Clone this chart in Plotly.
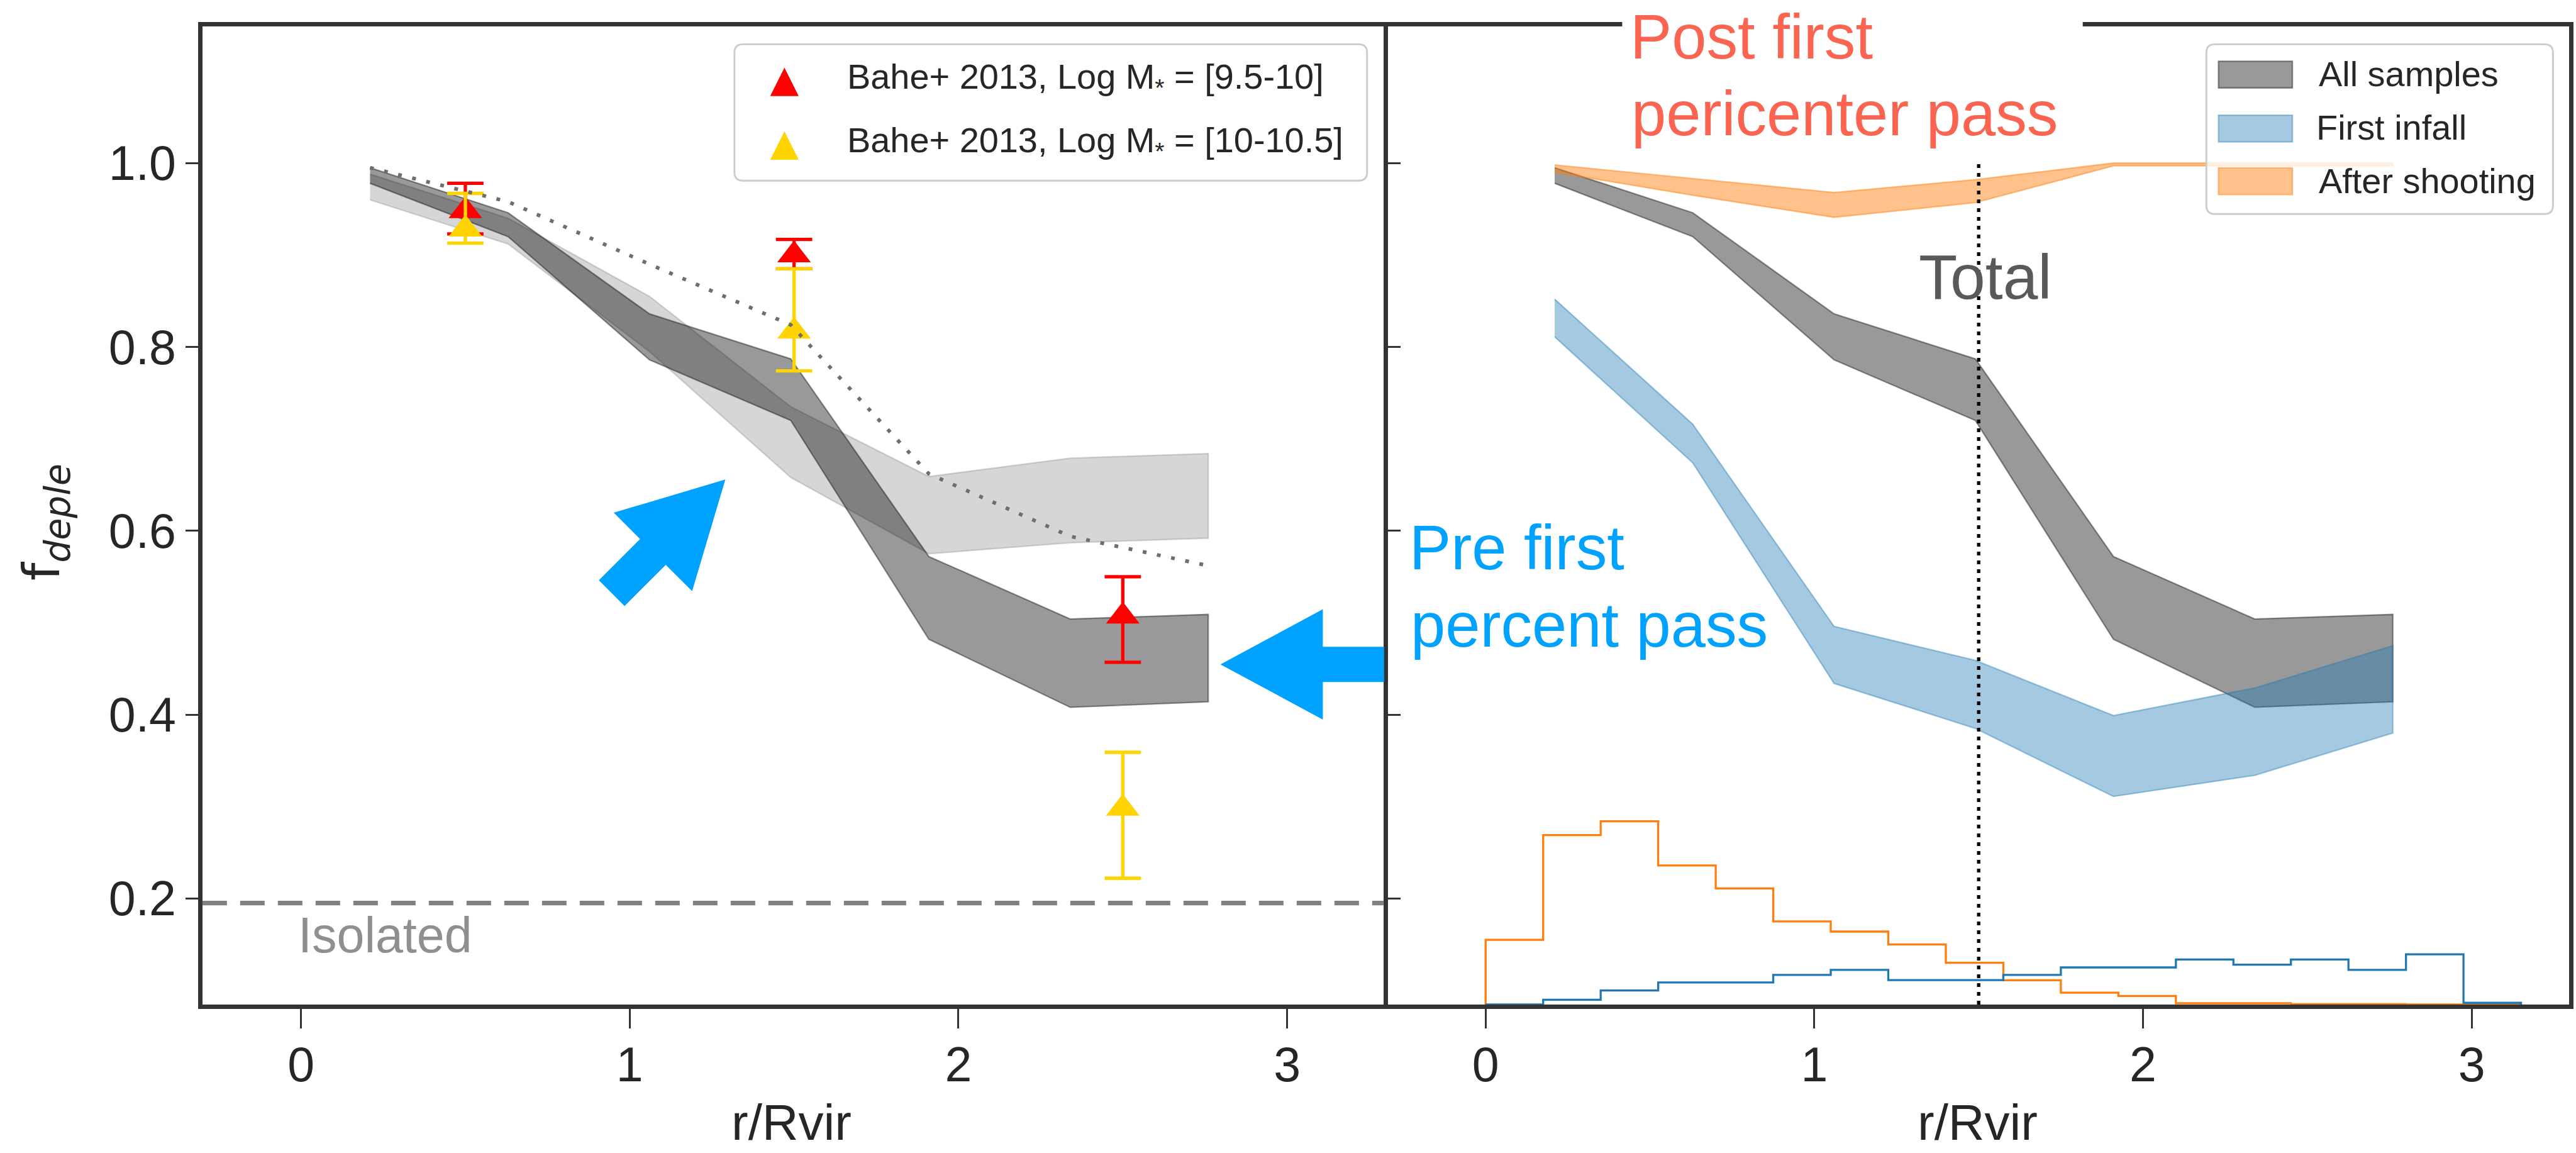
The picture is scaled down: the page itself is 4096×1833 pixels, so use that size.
import plotly.graph_objects as go

# Layout is designed on a 4251 x 1902 grid and converted to paper fractions.
W, H = 4251, 1902
S = 4096 / W  # grid unit -> screen pixel


def fx(X):
    return X / W


def fy(Y):
    return 1 - Y / H


def sz(v):
    return v * S


FONT = "Liberation Sans"
INK = "#262626"
SPINE = "#333333"
BLUE_NOTE = "#00a2ff"
RED_NOTE = "#fa6450"

# ---------------- data ----------------
r_bins = [0.21, 0.63, 1.06, 1.49, 1.91, 2.34, 2.76]

all_hi = [0.995, 0.946, 0.836, 0.787, 0.572, 0.504, 0.509]
all_lo = [0.978, 0.920, 0.786, 0.720, 0.482, 0.408, 0.414]

bahe_band_hi = [0.988, 0.940, 0.855, 0.735, 0.659, 0.679, 0.684]
bahe_band_lo = [0.960, 0.912, 0.795, 0.658, 0.575, 0.587, 0.592]

bahe_model = [0.995, 0.958, 0.890, 0.824, 0.662, 0.594, 0.562]

infall_hi = [0.852, 0.716, 0.496, 0.459, 0.399, 0.429, 0.475]
infall_lo = [0.811, 0.674, 0.434, 0.385, 0.311, 0.334, 0.380]

after_hi = [0.998, 0.983, 0.968, 0.982, 1.000, 1.000, 1.000]
after_lo = [0.990, 0.965, 0.941, 0.957, 0.997, 0.997, 0.997]

bahe_r = [0.5, 1.5, 2.5]
low_mass_f = [0.948, 0.900, 0.507]
low_mass_up = [0.030, 0.017, 0.043]
low_mass_dn = [0.025, 0.015, 0.050]
high_mass_f = [0.928, 0.817, 0.298]
high_mass_up = [0.039, 0.068, 0.061]
high_mass_dn = [0.015, 0.043, 0.076]

isolated_f = 0.195
total_r = 1.5

hist_edges = [0.0, 0.175, 0.35, 0.525, 0.7, 0.875, 1.05, 1.225, 1.4, 1.575,
              1.75, 1.925, 2.1, 2.275, 2.45, 2.625, 2.8, 2.975, 3.15]
after_hist = [0.155, 0.269, 0.284, 0.236, 0.211, 0.175, 0.164, 0.150, 0.130,
              0.111, 0.0975, 0.094, 0.086, 0.086, 0.085, 0.085, 0.0847, 0.0847]
infall_hist = [0.0847, 0.0898, 0.0999, 0.1087, 0.1087, 0.1168, 0.1223, 0.1113,
               0.1113, 0.1168, 0.125, 0.125, 0.1337, 0.128, 0.1337, 0.1223,
               0.1393, 0.0865]

x_ticks = [0, 1, 2, 3]
y_ticks = [0.2, 0.4, 0.6, 0.8, 1.0]
y_tick_text = ["0.2", "0.4", "0.6", "0.8", "1.0"]

Y_RANGE = [0.0847, 1.1484]
X_RANGE_L = [-0.300, 3.293]
X_RANGE_R = [-0.298, 3.297]

C_ALL = "rgba(0,0,0,0.40)"
C_BAHE = "rgba(128,128,128,0.32)"
C_INFALL = "rgba(31,119,180,0.40)"
C_AFTER = "rgba(255,127,14,0.48)"
C_LOW = "#ff0000"
C_HIGH = "#ffd400"

fig = go.Figure()


def band(x, lo, hi, color, xa, ya):
    fig.add_trace(go.Scatter(
        x=list(x) + list(x)[::-1], y=list(hi) + list(lo)[::-1],
        mode="lines", fill="toself", fillcolor=color,
        line=dict(color=color, width=sz(2.4)),
        xaxis=xa, yaxis=ya, hoverinfo="skip"))


def steps(edges, vals, base, color, xa, ya):
    fig.add_trace(go.Scatter(
        x=[edges[0]] + list(edges), y=[base] + list(vals) + [base],
        mode="lines", line=dict(color=color, width=sz(3.4), shape="hv"),
        xaxis=xa, yaxis=ya, hoverinfo="skip"))


def bahe_points(y, up, dn, color):
    fig.add_trace(go.Scatter(
        x=bahe_r, y=y, mode="markers",
        marker=dict(symbol="triangle-up", size=sz(48), color=color,
                    line=dict(width=0)),
        error_y=dict(type="data", symmetric=False, array=up, arrayminus=dn,
                     color=color, thickness=sz(5.5), width=sz(30)),
        xaxis="x", yaxis="y", hoverinfo="skip"))


# left panel: comparison with Bahe+ 2013
band(r_bins, bahe_band_lo, bahe_band_hi, C_BAHE, "x", "y")
band(r_bins, all_lo, all_hi, C_ALL, "x", "y")
bahe_points(low_mass_f, low_mass_up, low_mass_dn, C_LOW)
bahe_points(high_mass_f, high_mass_up, high_mass_dn, C_HIGH)
fig.add_trace(go.Scatter(
    x=r_bins, y=bahe_model, mode="lines",
    line=dict(color="#6e6e6e", width=sz(6), dash="6px,17px"),
    xaxis="x", yaxis="y", hoverinfo="skip"))

# right panel: split by orbital phase
band(r_bins, all_lo, all_hi, C_ALL, "x2", "y2")
band(r_bins, infall_lo, infall_hi, C_INFALL, "x2", "y2")
band(r_bins, after_lo, after_hi, C_AFTER, "x2", "y2")
steps(hist_edges, after_hist, Y_RANGE[0], "#ff7f0e", "x2", "y2")
steps(hist_edges, infall_hist, Y_RANGE[0], "#1f77b4", "x2", "y2")

# ---------------- axes ----------------
tickfont = dict(family=FONT, size=sz(80), color=INK)
axis_common = dict(showgrid=False, zeroline=False, showline=True, mirror=True,
                   linecolor=SPINE, linewidth=sz(7.6), tickcolor=SPINE,
                   tickwidth=sz(3.6), tickfont=tickfont)

fig.update_layout(
    width=4096, height=1833,
    margin=dict(l=0, r=0, t=0, b=0),
    paper_bgcolor="white", plot_bgcolor="white",
    showlegend=False,
    xaxis=dict(domain=[fx(334), fx(2283)], range=X_RANGE_L, anchor="y",
               tickvals=x_ticks, ticks="outside", ticklen=sz(32),
               ticklabelstandoff=-8, **axis_common),
    yaxis=dict(domain=[fy(1657), fy(44)], range=Y_RANGE, anchor="x",
               tickvals=y_ticks, ticktext=y_tick_text, ticks="outside",
               ticklen=sz(20), **axis_common),
    xaxis2=dict(domain=[fx(2290), fx(4240)], range=X_RANGE_R, anchor="y2",
                tickvals=x_ticks, ticks="outside", ticklen=sz(32),
                ticklabelstandoff=-8, **axis_common),
    yaxis2=dict(domain=[fy(1657), fy(44)], range=Y_RANGE, anchor="x2",
                matches="y", tickvals=y_ticks, ticks="inside", ticklen=sz(21),
                showticklabels=False, **axis_common),
)


# ---------------- overlay shapes ----------------
def arrow_path(tail, tip, shaft_w, head_w, head_len):
    (x0, y0), (x1, y1) = tail, tip
    dx, dy = x1 - x0, y1 - y0
    L = (dx * dx + dy * dy) ** 0.5
    ux, uy = dx / L, dy / L
    nx, ny = -uy, ux
    bx, by = x1 - ux * head_len, y1 - uy * head_len
    pts = [
        (x0 + nx * shaft_w / 2, y0 + ny * shaft_w / 2),
        (bx + nx * shaft_w / 2, by + ny * shaft_w / 2),
        (bx + nx * head_w / 2, by + ny * head_w / 2),
        (x1, y1),
        (bx - nx * head_w / 2, by - ny * head_w / 2),
        (bx - nx * shaft_w / 2, by - ny * shaft_w / 2),
        (x0 - nx * shaft_w / 2, y0 - ny * shaft_w / 2),
    ]
    return "M " + " L ".join(f"{fx(px):.5f},{fy(py):.5f}" for px, py in pts) + " Z"


def rrect_path(X0, Y0, X1, Y1, r):
    return (f"M {fx(X0 + r)},{fy(Y0)} L {fx(X1 - r)},{fy(Y0)} "
            f"Q {fx(X1)},{fy(Y0)} {fx(X1)},{fy(Y0 + r)} L {fx(X1)},{fy(Y1 - r)} "
            f"Q {fx(X1)},{fy(Y1)} {fx(X1 - r)},{fy(Y1)} L {fx(X0 + r)},{fy(Y1)} "
            f"Q {fx(X0)},{fy(Y1)} {fx(X0)},{fy(Y1 - r)} L {fx(X0)},{fy(Y0 + r)} "
            f"Q {fx(X0)},{fy(Y0)} {fx(X0 + r)},{fy(Y0)} Z")


def tri_path(cx, cy, w, h):
    return (f"M {fx(cx)},{fy(cy - h / 2)} L {fx(cx - w / 2)},{fy(cy + h / 2)} "
            f"L {fx(cx + w / 2)},{fy(cy + h / 2)} Z")


shapes = [
    # isolated-galaxy level
    dict(type="line", xref="x domain", yref="y", x0=0, x1=1,
         y0=isolated_f, y1=isolated_f,
         line=dict(color="#808080", width=sz(7.5), dash="39px,21px")),
    # split radius used for the "Total" sample
    dict(type="line", xref="x2", yref="y2", x0=total_r, x1=total_r,
         y0=Y_RANGE[0], y1=1.0,
         line=dict(color="black", width=sz(5.5), dash="6px,8px")),
    # backdrop of the upper note
    dict(type="rect", xref="paper", yref="paper", x0=fx(2677), x1=fx(3437),
         y0=fy(250), y1=1, fillcolor="white", line=dict(width=0)),
    # blue pointers
    dict(type="path", xref="paper", yref="paper", fillcolor=BLUE_NOTE,
         line=dict(width=0),
         path=arrow_path((1009.5, 978.5), (1197, 791), 60, 183, 169)),
    dict(type="path", xref="paper", yref="paper", fillcolor=BLUE_NOTE,
         line=dict(width=0),
         path=arrow_path((2284, 1096), (2014, 1096), 58, 182, 169)),
    # legend frames
    dict(type="path", xref="paper", yref="paper",
         fillcolor="rgba(255,255,255,0.8)", line=dict(color="#cccccc", width=sz(3)),
         path=rrect_path(1212, 73, 2256, 298, 14)),
    dict(type="path", xref="paper", yref="paper",
         fillcolor="rgba(255,255,255,0.8)", line=dict(color="#cccccc", width=sz(3)),
         path=rrect_path(3641, 73, 4213, 353, 14)),
    # legend keys
    dict(type="path", xref="paper", yref="paper", fillcolor=C_LOW,
         line=dict(width=0), path=tri_path(1294.5, 135, 47, 47)),
    dict(type="path", xref="paper", yref="paper", fillcolor=C_HIGH,
         line=dict(width=0), path=tri_path(1294.5, 240, 47, 47)),
]
for yc, col in [(123, C_ALL), (212, C_INFALL), (299, C_AFTER)]:
    shapes.append(dict(type="rect", xref="paper", yref="paper",
                       x0=fx(3661), x1=fx(3783), y0=fy(yc + 22), y1=fy(yc - 22),
                       fillcolor=col, line=dict(color=col, width=sz(2.4))))
fig.update_layout(shapes=shapes)


# ---------------- text ----------------
def label(text, X, Yc, size, color, xanchor="left", angle=0, family=FONT):
    fig.add_annotation(text=text, xref="paper", yref="paper",
                       x=fx(X), y=fy(Yc), xanchor=xanchor, yanchor="middle",
                       showarrow=False, textangle=angle,
                       font=dict(family=family, size=sz(size), color=color))


label("f<sub><i>deple</i></sub>", 74, 861, 84, INK, xanchor="center",
      angle=-90, family="DejaVu Sans")
label("r/Rvir", 1306.5, 1852, 83, INK, xanchor="center")
label("r/Rvir", 3263, 1852, 83, INK, xanchor="center")
label("Isolated", 490, 1542, 82, "#8f8f8f")

label("Bahe+ 2013, Log M<sub>*</sub> = [9.5-10]", 1396, 130, 58, INK)
label("Bahe+ 2013, Log M<sub>*</sub> = [10-10.5]", 1396, 235, 58, INK)
label("All samples", 3824, 122, 58, INK)
label("First infall", 3820, 210, 58, INK)
label("After shooting", 3824, 298, 58, INK)

label("Post first", 2688, 60.5, 103, RED_NOTE)
label("pericenter pass", 2690, 187.5, 103, RED_NOTE)
label("Pre first", 2324, 903.5, 103, BLUE_NOTE)
label("percent pass", 2326, 1030.5, 103, BLUE_NOTE)
label("Total", 3164, 457, 104, "#595959")

fig.write_html("out.html")
